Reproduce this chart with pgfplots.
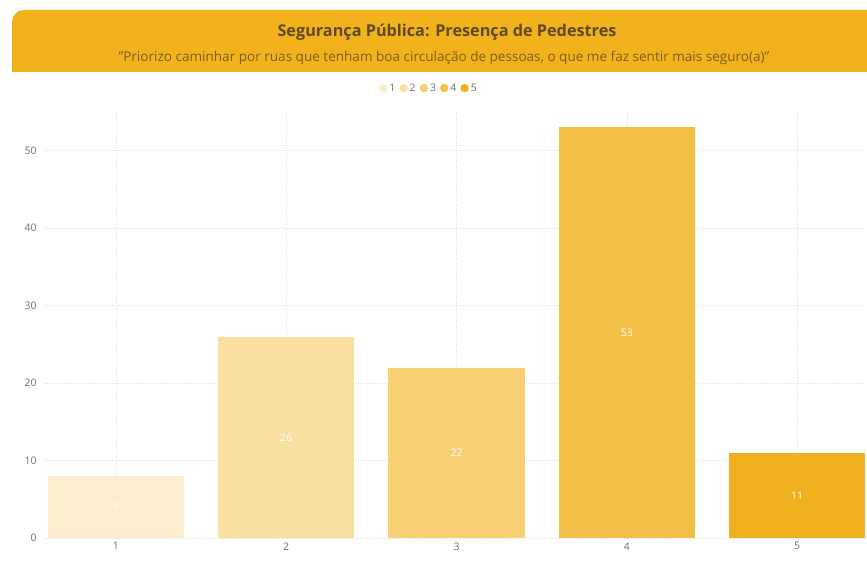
\documentclass[border=0pt]{standalone}
\usepackage{pgfplots}
\pgfplotsset{compat=1.18}
\usepackage{fontspec}
\setmainfont{Open Sans}
\definecolor{banner}{HTML}{F2B21C}
\definecolor{titlec}{HTML}{5E4A1E}
\definecolor{subc}{HTML}{7E5F18}
\definecolor{cA}{HTML}{FBEDCD}
\definecolor{cB}{HTML}{F9DFA0}
\definecolor{cC}{HTML}{F6D073}
\definecolor{cD}{HTML}{F3C046}
\definecolor{cE}{HTML}{F1B11F}
\definecolor{tickc}{HTML}{707070}
\definecolor{gridc}{HTML}{E2E2E2}
\begin{document}
\begin{tikzpicture}[x=1bp,y=1bp]
\useasboundingbox (0,0) rectangle (867,562);
\fill[white] (0,0) rectangle (867,562);
\fill[banner,rounded corners=12bp] (12,490) -- (12,552) -- (890,552) -- (890,490) [sharp corners] -- cycle;
\node[text=titlec,font=\fontsize{16.3}{18}\selectfont\bfseries] at (447,530) {Segurança Pública: Presença de Pedestres};
\node[text=subc,font=\fontsize{13.6}{15}\selectfont] at (444,504) {\symbol{34}Priorizo caminhar por ruas que tenham boa circulação de pessoas, o que me faz sentir mais seguro(a)\symbol{34}};
\begin{axis}[
  at={(45bp,24bp)}, anchor=south west,
  scale only axis, width=822bp, height=426bp,
  xmin=0.584, xmax=5.41, ymin=0, ymax=55,
  xtick={1,2,3,4,5}, ytick={0,10,20,30,40,50},
  axis line style={draw=none},
  x axis line style={draw=gridc, dotted},
  major tick length=0pt,
  grid=major,
  major grid style={gridc, dotted, line width=0.7pt},
  tick label style={text=tickc, font=\fontsize{10.5}{12}\selectfont},
  /pgf/number format/assume math mode=true,
  yticklabel style={xshift=-5bp},
  xticklabel style={yshift=-1bp},
  legend columns=5,
  legend style={at={(0.467,1.056)}, anchor=center, draw=none, fill=none,
    font=\fontsize{10.5}{12}\selectfont, text=tickc,
    /tikz/every even column/.append style={column sep=2bp},
    inner sep=0pt},
  legend image code/.code={\fill[#1] (0bp,0bp) circle (4.2bp);},
  legend cell align=left,
]
\addplot[ybar, bar width=0.8, bar shift=0pt, fill=cA, draw=none] coordinates {(1,8)};
\addlegendentry{1}
\addplot[ybar, bar width=0.8, bar shift=0pt, fill=cB, draw=none] coordinates {(2,26)};
\addlegendentry{2}
\addplot[ybar, bar width=0.8, bar shift=0pt, fill=cC, draw=none] coordinates {(3,22)};
\addlegendentry{3}
\addplot[ybar, bar width=0.8, bar shift=0pt, fill=cD, draw=none] coordinates {(4,53)};
\addlegendentry{4}
\addplot[ybar, bar width=0.8, bar shift=0pt, fill=cE, draw=none] coordinates {(5,11)};
\addlegendentry{5}
\addplot[only marks, mark=none, forget plot, nodes near coords, point meta=explicit symbolic,
  every node near coord/.append style={anchor=center, text=white, font=\fontsize{10.5}{12}\selectfont}]
  coordinates {(1,4)[8] (2,13)[26] (3,11)[22] (4,26.5)[53] (5,5.5)[11]};
\end{axis}
\end{tikzpicture}
\end{document}
